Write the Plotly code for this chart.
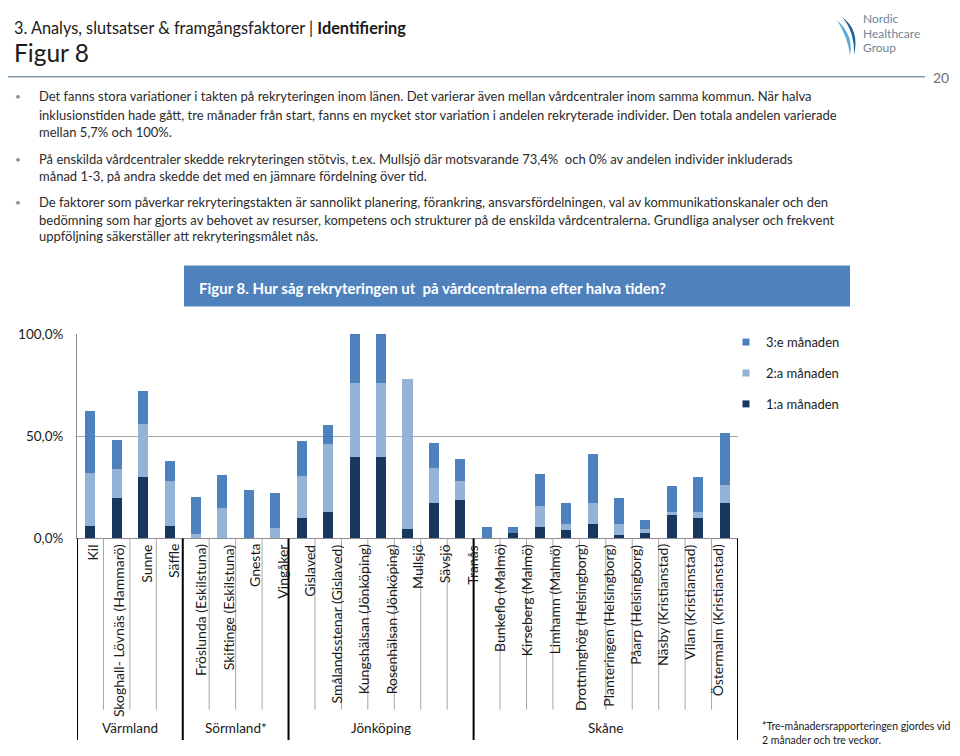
import plotly.graph_objects as go

# ---------------- data ----------------
categories = ["Kil", "Skoghall- Lövnäs (Hammarö)", "Sunne", "Säffle",
              "Fröslunda (Eskilstuna)", "Skiftinge (Eskilstuna)", "Gnesta", "Vingåker",
              "Gislaved", "Smålandsstenar (Gislaved)", "Kungshälsan (Jönköping)",
              "Rosenhälsan (Jönköping)", "Mullsjö", "Sävsjö", "Tranås",
              "Bunkeflo (Malmö)", "Kirseberg (Malmö)", "Limhamn (Malmö)",
              "Drottninghög (Helsingborg)", "Planteringen (Helsingborg)",
              "Påarp (Helsingborg)", "Näsby (Kristianstad)", "Vilan (Kristianstad)",
              "Östermalm (Kristianstad)", ""]
month1 = [6.0, 19.9, 30.0, 6.0, 0, 0, 0, 0, 10.0, 13.0, 40.0, 40.0, 4.7,
          17.2, 18.8, 0, 2.8, 5.7, 4.2, 7.1, 1.5, 2.8, 11.3, 9.9, 17.2]
month2 = [25.9, 14.1, 26.1, 22.0, 2.4, 15.1, 0, 4.9, 20.5, 33.2, 36.2, 36.2, 73.4,
          17.2, 9.2, 0, 0, 10.0, 2.9, 10.2, 5.8, 1.7, 1.7, 3.1, 8.7]
month3 = [30.2, 14.1, 16.0, 10.1, 17.9, 15.7, 23.7, 17.3, 17.0, 9.4, 23.8, 23.8, 0,
          12.4, 11.1, 5.7, 2.9, 15.7, 10.2, 24.2, 12.6, 4.3, 12.8, 17.0, 25.6]
series_names = ["1:a månaden", "2:a månaden", "3:e månaden"]
group_names = ["Värmland", "Sörmland*", "Jönköping", "Skåne"]
group_sizes = [4, 4, 7, 10]
ytick_vals = [0, 50, 100]
ytick_text = ["0,0%", "50,0%", "100,0%"]

header = "3. Analys, slutsatser & framgångsfaktorer | <b>Identifiering</b>"
figure_title = "Figur 8"
page_number = "20"
logo_lines = ["Nordic", "Healthcare", "Group"]
chart_title = "Figur 8. Hur såg rekryteringen ut  på vårdcentralerna efter halva tiden?"
bullets = [
    ["Det fanns stora variationer i takten på rekryteringen inom länen. Det varierar även mellan vårdcentraler inom samma kommun. När halva",
     "inklusionstiden hade gått, tre månader från start, fanns en mycket stor variation i andelen rekryterade individer. Den totala andelen varierade",
     "mellan 5,7% och 100%."],
    ["På enskilda vårdcentraler skedde rekryteringen stötvis, t.ex. Mullsjö där motsvarande 73,4%  och 0% av andelen individer inkluderads",
     "månad 1-3, på andra skedde det med en jämnare fördelning över tid."],
    ["De faktorer som påverkar rekryteringstakten är sannolikt planering, förankring, ansvarsfördelningen, val av kommunikationskanaler och den",
     "bedömning som har gjorts av behovet av resurser, kompetens och strukturer på de enskilda vårdcentralerna. Grundliga analyser och frekvent",
     "uppföljning säkerställer att rekryteringsmålet nås."],
]
footnote = "*Tre-månadersrapporteringen gjordes vid<br>2 månader och tre veckor."

# ---------------- styling ----------------
# the page body has an 8px margin, so the figure is 16px smaller than the window
PAGE_W, PAGE_H, OFF = 960, 756, 8
W, H = PAGE_W - 2 * OFF, PAGE_H - 2 * OFF
FONT = "Lato"
TXT = "#1a1a1a"
C_DARK, C_LIGHT, C_MID = "#17375E", "#95B3D7", "#4F81BD"


def X(px):
    """page pixel x -> paper"""
    return (px - OFF) / W


def Y(py):
    """page pixel y -> paper"""
    return 1 - (py - OFF) / H


fig = go.Figure()
xs = list(range(len(categories)))
for vals, name, col in zip([month1, month2, month3], series_names, [C_DARK, C_LIGHT, C_MID]):
    fig.add_trace(go.Bar(x=xs, y=vals, name=name, marker=dict(color=col, line=dict(width=0)),
                         showlegend=False))

# legend entries (small squares)
for name, col in zip(series_names[::-1], [C_MID, C_LIGHT, C_DARK]):
    fig.add_trace(go.Scatter(x=[None], y=[None], mode="markers", name=name, legendgroup=name,
                             marker=dict(symbol="square", size=7, color=col)))

plot_l, plot_r, plot_t, plot_b = 77, 738, 333, 542
fig.update_layout(
    width=W, height=H, autosize=False,
    margin=dict(l=0, r=0, t=0, b=0),
    paper_bgcolor="white", plot_bgcolor="white",
    barmode="stack", bargap=0.62,
    font=dict(family=FONT, color=TXT, size=13),
    xaxis=dict(domain=[X(plot_l), X(plot_r)], range=[-0.5, len(categories) - 0.5],
               showticklabels=False, showgrid=False, zeroline=False,
               showline=True, linecolor="#8c8c8c", linewidth=1, fixedrange=True),
    yaxis=dict(domain=[Y(plot_b), Y(plot_t)], range=[0, 100], tickvals=ytick_vals,
               ticktext=ytick_text, showgrid=True, gridcolor="#a6a6a6", gridwidth=1,
               zeroline=False, showline=True, linecolor="#8c8c8c", linewidth=1,
               ticks="", ticklabelstandoff=10, tickfont=dict(size=13.5, color=TXT)),
    legend=dict(x=X(726), y=Y(326), xanchor="left", yanchor="top",
                font=dict(size=13, color=TXT), traceorder="grouped",
                tracegroupgap=11, itemwidth=30, bgcolor="rgba(0,0,0,0)"),
)

shapes = []
ann = []

# header
ann.append(dict(text=header, x=X(12), y=Y(20), xanchor="left", yanchor="middle",
                font=dict(size=16.3, color=TXT)))
ann.append(dict(text=figure_title, x=X(12), y=Y(45), xanchor="left", yanchor="middle",
                font=dict(size=24.5, color=TXT)))
shapes.append(dict(type="line", xref="paper", yref="paper", x0=X(8), x1=X(925), y0=Y(70), y1=Y(70),
                   line=dict(color="#8299ad", width=1.5)))
ann.append(dict(text=page_number, x=X(941), y=Y(71), xanchor="center", yanchor="middle",
                font=dict(size=14, color="#707070")))

# logo
def path(points):
    s = "M %f %f" % (X(points[0][0]), Y(points[0][1]))
    i = 1
    while i < len(points):
        (cx, cy), (ex, ey) = points[i], points[i + 1]
        s += " Q %f %f %f %f" % (X(cx), Y(cy), X(ex), Y(ey))
        i += 2
    return s + " Z"

shapes.append(dict(type="path", xref="paper", yref="paper", line=dict(width=0),
                   fillcolor="#1d5f96", path=path([(842, 9), (860, 22), (854, 48), (855, 24), (842, 9)])))
shapes.append(dict(type="path", xref="paper", yref="paper", line=dict(width=0),
                   fillcolor="#5aaad8", path=path([(837, 12), (854, 28), (850, 48), (848, 30), (837, 12)])))
for t, yy in zip(logo_lines, [11, 26, 40]):
    ann.append(dict(text=t, x=X(861), y=Y(yy), xanchor="left", yanchor="middle",
                    font=dict(size=12, color="#6f8598")))

# bullets
line_y = [[90, 109, 127], [154, 172], [198, 216, 233]]
for para, ys in zip(bullets, line_y):
    ann.append(dict(text="•", x=X(18), y=Y(ys[0]), xanchor="center", yanchor="middle",
                    font=dict(size=10, color="#8c8c8c")))
    for t, yy in zip(para, ys):
        ann.append(dict(text=t, x=X(37), y=Y(yy), xanchor="left", yanchor="middle",
                        font=dict(size=13, color="#2b2b2b")))

# banner
shapes.append(dict(type="rect", xref="paper", yref="paper", x0=X(184), x1=X(850), y0=Y(263), y1=Y(305),
                   fillcolor=C_MID, line=dict(width=0)))
ann.append(dict(text="<b>" + chart_title + "</b>", x=X(197), y=Y(286), xanchor="left", yanchor="middle",
                font=dict(size=15, color="white")))

# category separators and group separators below axis
bounds = [-0.5]
for s in group_sizes:
    bounds.append(bounds[-1] + s)
for i in range(len(categories) - 1):
    b = i + 0.5
    if b in bounds:
        continue
    shapes.append(dict(type="line", xref="x", yref="paper", x0=b, x1=b, y0=Y(542), y1=Y(717),
                       line=dict(color="#a6a6a6", width=1)))
for b in bounds:
    shapes.append(dict(type="line", xref="x", yref="paper", x0=b, x1=b, y0=Y(542), y1=Y(748),
                       line=dict(color="#000000", width=2)))

# category labels (vertical)
for i, c in enumerate(categories):
    if not c:
        continue
    ann.append(dict(text=c, x=i * 1.0276 + 0.07, xref="x", y=Y(546), yanchor="top", xanchor="center",
                    textangle=-90, font=dict(size=14, color=TXT)))

# group labels
for g, s, b in zip(group_names, group_sizes, bounds[:-1]):
    ann.append(dict(text=g, x=b + s / 2, xref="x", y=Y(736), xanchor="center", yanchor="middle",
                    font=dict(size=13.5, color=TXT)))

ann.append(dict(text=footnote, x=X(760), y=Y(741), xanchor="left", yanchor="middle", align="left",
                font=dict(size=10.5, color=TXT)))

for a in ann:
    a.setdefault("xref", "paper")
    a.setdefault("yref", "paper")
    a["showarrow"] = False
fig.update_layout(shapes=shapes, annotations=ann)

fig.write_html("out.html")
